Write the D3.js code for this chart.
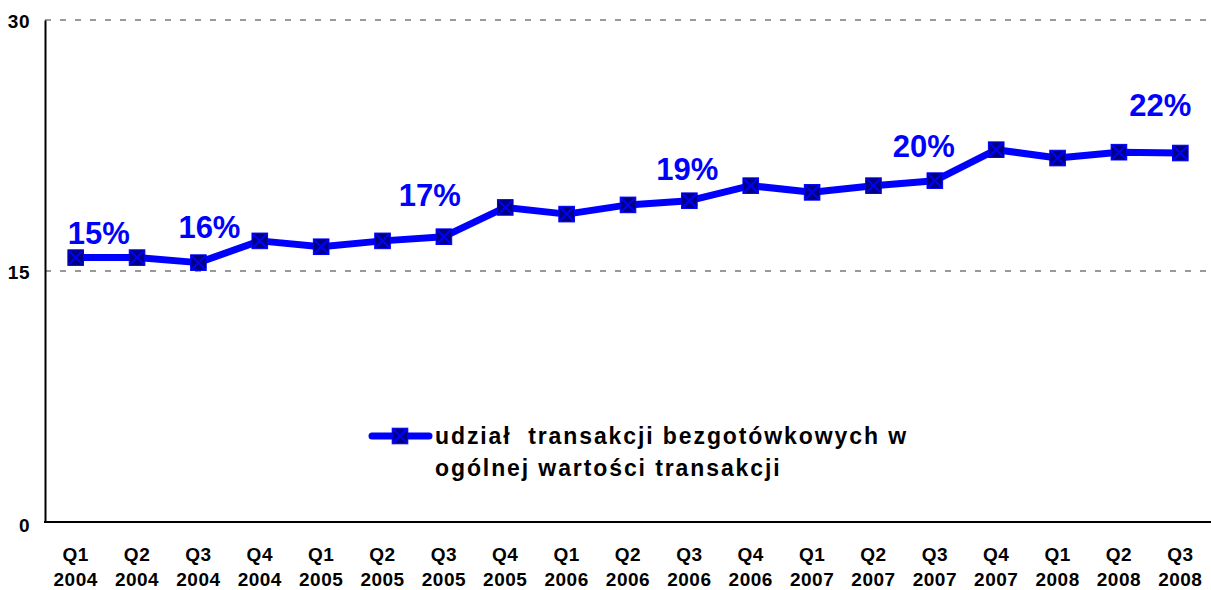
<!DOCTYPE html>
<html>
<head>
<meta charset="utf-8">
<script src="https://cdn.jsdelivr.net/npm/d3@7"></script>
<style>
  body { margin: 0; background: #fff; }
  text { font-family: "Liberation Sans", Arial, sans-serif; font-weight: bold; }
</style>
</head>
<body>
<div class="canvas"></div>
<script>
// Data
const quarters = ['Q1', 'Q2', 'Q3', 'Q4', 'Q1', 'Q2', 'Q3', 'Q4', 'Q1', 'Q2', 'Q3', 'Q4', 'Q1', 'Q2', 'Q3', 'Q4', 'Q1', 'Q2', 'Q3']
const years = ['2004', '2004', '2004', '2004', '2005', '2005', '2005', '2005', '2006', '2006', '2006', '2006', '2007', '2007', '2007', '2007', '2008', '2008', '2008']
const shareValues = [15.8, 15.8, 15.5, 16.8, 16.45, 16.8, 17.05, 18.8, 18.4, 18.95, 19.2, 20.1, 19.7, 20.1, 20.4, 22.25, 21.75, 22.1, 22.05]
const yTicks = [0, 15, 30]
const annotationIndex = [0, 2, 6, 10, 14, 18]
const annotationText = ['15%', '16%', '17%', '19%', '20%', '22%']
const legendLines = ['udział  transakcji bezgotówkowych w', 'ogólnej wartości transakcji']

// Layout
const width = 1211, height = 590
const margin = { top: 20, right: 0, bottom: 68, left: 45 }
const annotationOffset = [[23, -14], [11, -25], [-14, -31], [-2, -21], [-11, -24], [-20, -37]]

const svg = d3.select('.canvas')
  .append('svg')
    .attr('width', width)
    .attr('height', height)

const x = d3.scaleBand()
  .domain(d3.range(quarters.length))
  .range([margin.left, width - margin.right])

const y = d3.scaleLinear()
  .domain([0, 30])
  .range([height - margin.bottom, margin.top])

const cx = i => x(i) + x.bandwidth() / 2

// Gridlines
svg.append('g')
  .selectAll('line')
  .data(yTicks.filter(t => t > 0))
  .enter().append('line')
    .attr('x1', margin.left)
    .attr('x2', width)
    .attr('y1', d => y(d))
    .attr('y2', d => y(d))
    .attr('stroke', '#999')
    .attr('stroke-width', 2)
    .attr('stroke-dasharray', '6,9')

// Axes
const yAxis = d3.axisLeft(y).tickValues(yTicks).tickSize(0).tickPadding(15)
const yg = svg.append('g')
  .attr('transform', `translate(${margin.left},0)`)
  .call(yAxis)
yg.select('.domain').attr('stroke', '#000').attr('stroke-width', 2)
yg.selectAll('text').attr('font-size', 19).attr('fill', '#000')
  .attr('font-family', '"Liberation Sans", Arial, sans-serif').attr('font-weight', 'bold')
  .attr('letter-spacing', 0.5)
  .attr('dy', d => d === 0 ? '0.5em' : '0.38em')

svg.append('line')
  .attr('x1', margin.left - 1)
  .attr('x2', width)
  .attr('y1', y(0))
  .attr('y2', y(0))
  .attr('stroke', '#000')
  .attr('stroke-width', 2)

const xLabels = svg.append('g')
  .selectAll('text')
  .data(quarters)
  .enter().append('text')
    .attr('x', (d, i) => cx(i))
    .attr('y', 561)
    .attr('text-anchor', 'middle')
    .attr('font-size', 19)
    .attr('letter-spacing', 0.5)
xLabels.append('tspan').text(d => d)
xLabels.append('tspan')
  .attr('x', (d, i) => cx(i))
  .attr('dy', 25)
  .text((d, i) => years[i])

// Line
const line = d3.line()
  .x((d, i) => cx(i))
  .y(d => y(d))

svg.append('path')
  .datum(shareValues)
  .attr('fill', 'none')
  .attr('stroke', '#0000ff')
  .attr('stroke-width', 7)
  .attr('stroke-linejoin', 'round')
  .attr('d', line)

// Markers
const drawMarker = (g, px, py) => {
  const s = 7.8
  g.append('rect')
    .attr('x', px - s).attr('y', py - s)
    .attr('width', 2 * s).attr('height', 2 * s)
    .attr('fill', '#000080')
    .attr('stroke', '#0000ff')
    .attr('stroke-width', 1)
  g.append('path')
    .attr('d', `M${px - s + 1},${py - s + 1}L${px + s - 1},${py + s - 1}M${px + s - 1},${py - s + 1}L${px - s + 1},${py + s - 1}`)
    .attr('stroke', '#0000ff')
    .attr('stroke-width', 2)
}

const markers = svg.append('g')
shareValues.forEach((v, i) => drawMarker(markers, cx(i), y(v)))

// Annotations
svg.append('g')
  .selectAll('text')
  .data(annotationIndex)
  .enter().append('text')
    .attr('x', (d, i) => cx(d) + annotationOffset[i][0])
    .attr('y', (d, i) => y(shareValues[d]) + annotationOffset[i][1])
    .attr('text-anchor', 'middle')
    .attr('font-size', 31)
    .attr('fill', '#0000ff')
    .text((d, i) => annotationText[i])

// Legend
const legendGroup = svg.append('g')
legendGroup.append('line')
  .attr('x1', 372).attr('x2', 429)
  .attr('y1', 436).attr('y2', 436)
  .attr('stroke', '#0000ff')
  .attr('stroke-width', 7)
  .attr('stroke-linecap', 'round')
drawMarker(legendGroup, 400, 436)
legendGroup.selectAll('text.leg')
  .data(legendLines)
  .enter().append('text')
    .attr('class', 'leg')
    .attr('x', 435)
    .attr('y', (d, i) => 444 + i * 32)
    .attr('font-size', 23)
    .attr('letter-spacing', 1.9)
    .attr('fill', '#000')
    .attr('xml:space', 'preserve')
    .style('white-space', 'pre')
    .text(d => d)
</script>
</body>
</html>
